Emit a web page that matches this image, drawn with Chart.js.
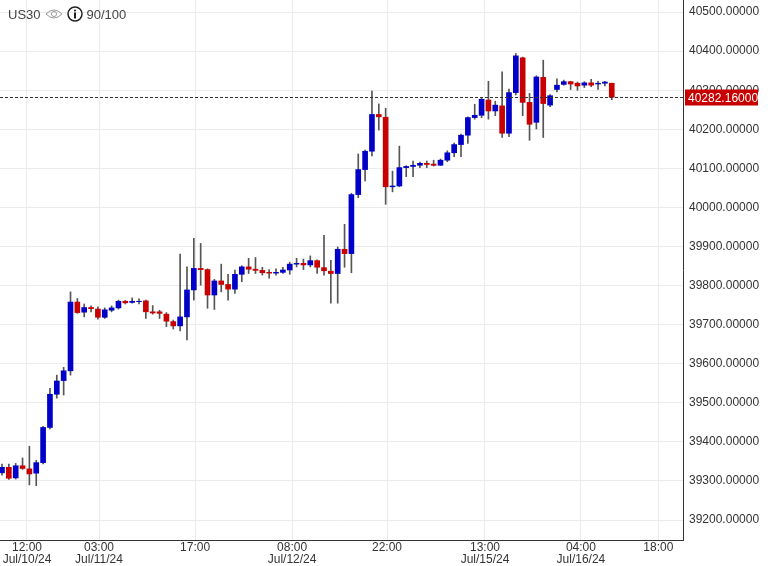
<!DOCTYPE html>
<html>
<head>
<meta charset="utf-8">
<script src="https://cdn.jsdelivr.net/npm/chart.js@4.4.1/dist/chart.umd.min.js"></script>
<style>
  body { margin: 0; background: #fff; }
  #wrap { position: relative; width: 768px; height: 566px; }
  #head { position: absolute; left: 8px; top: 6px; font: 13px "Liberation Sans", Arial, sans-serif; color: #444; display: flex; align-items: center; gap: 4px; }
</style>
</head>
<body>
<div id="wrap">
  <canvas id="usChart"></canvas>
  <div id="head">
    <span>US30</span>
    <svg width="18" height="12" viewBox="0 0 18 12"><path d="M1 6 Q9 -2 17 6 Q9 14 1 6Z" fill="none" stroke="#999" stroke-width="1"/><circle cx="9" cy="6" r="2.5" fill="none" stroke="#999"/></svg>
    <svg width="16" height="16" viewBox="0 0 16 16"><circle cx="8" cy="8" r="7" fill="none" stroke="#222" stroke-width="1.5"/><circle cx="8" cy="4.5" r="1.1" fill="#222"/><rect x="7" y="6.5" width="2" height="6" fill="#222"/></svg>
    <span>90/100</span>
  </div>
</div>
<script>
const opens  = [39321,39335,39308,39339,39331,39320,39347,39437,39522,39557,39582,39758,39732,39744,39740,39719,39737,39743,39760,39757,39759,39761,39733,39733,39727,39708,39697,39720,39789,39844,39841,39776,39812,39803,39791,39829,39848,39842,39839,39834,39832,39834,39840,39855,39857,39853,39864,39846,39837,39831,39893,39882,40033,40097,40144,40238,40231,40053,40055,40102,40105,40108,40113,40111,40108,40121,40140,40161,40185,40230,40236,40275,40247,40260,40190,40294,40383,40269,40218,40333,40262,40302,40315,40322,40318,40313,40319,40316,40318,40318];
const highs  = [39343,39343,39345,39359,39389,39353,39440,39537,39571,39591,39784,39767,39753,39748,39746,39743,39748,39763,39762,39769,39766,39763,39749,39737,39731,39712,39881,39848,39921,39908,39843,39816,39855,39829,39840,39851,39870,39872,39847,39841,39843,39847,39860,39870,39868,39876,39866,39929,39865,39899,39957,40036,40137,40147,40298,40265,40254,40093,40157,40107,40119,40116,40119,40121,40124,40145,40165,40188,40232,40264,40279,40323,40272,40347,40303,40394,40385,40292,40337,40377,40289,40329,40326,40323,40321,40322,40328,40323,40323,40318];
const lows   = [39315,39304,39305,39330,39290,39288,39344,39433,39512,39520,39571,39729,39720,39733,39714,39716,39733,39740,39753,39755,39753,39716,39727,39716,39695,39689,39684,39661,39763,39801,39742,39739,39784,39763,39780,39810,39831,39831,39827,39819,39827,39831,39829,39848,39841,39848,39831,39827,39755,39755,39847,39833,40025,40068,40132,40198,40008,40040,40053,40079,40079,40102,40102,40106,40108,40117,40130,40130,40164,40226,40230,40226,40235,40179,40181,40288,40235,40172,40201,40179,40258,40296,40313,40302,40300,40307,40309,40302,40311,40276];
const closes = [39335,39307,39339,39332,39318,39347,39437,39522,39556,39582,39758,39731,39744,39741,39719,39738,39743,39760,39756,39760,39760,39733,39730,39729,39709,39697,39720,39789,39844,39841,39776,39812,39803,39791,39829,39848,39842,39839,39833,39832,39834,39840,39855,39857,39853,39864,39847,39838,39831,39893,39882,40033,40097,40144,40238,40232,40053,40055,40102,40105,40108,40113,40110,40108,40121,40140,40161,40185,40230,40236,40277,40247,40262,40190,40294,40388,40269,40213,40334,40266,40286,40313,40322,40316,40311,40319,40313,40318,40321,40282.16];
const lastPrice = 40282.16;
const timeTicks = [3.65, 14.16, 28.18, 42.34, 56.2, 70.5, 84.5, 95.8];
const timeLabels = [['12:00','Jul/10/24'], ['03:00','Jul/11/24'], ['17:00',''], ['08:00','Jul/12/24'], ['22:00',''], ['13:00','Jul/15/24'], ['04:00','Jul/16/24'], ['18:00','']];
const priceTicks = [39200,39300,39400,39500,39600,39700,39800,39900,40000,40100,40200,40300,40400,40500];

const BLUE = 'rgb(0, 0, 200)';
const RED = 'rgb(200, 0, 0)';
const colors = opens.map((o, i) => closes[i] >= o ? BLUE : RED);
const font = { family: '"Liberation Sans", Arial, sans-serif', size: 12, lineHeight: 1.05 };

const lastLine = {
  id: 'lastLine',
  afterDatasetsDraw(chart) {
    const { ctx, chartArea, scales } = chart;
    const y = Math.round(scales.y.getPixelForValue(lastPrice)) + 0.5;
    ctx.save();
    ctx.strokeStyle = '#333';
    ctx.setLineDash([3, 2]);
    ctx.lineWidth = 1;
    ctx.beginPath();
    ctx.moveTo(chartArea.left, y);
    ctx.lineTo(chartArea.right, y);
    ctx.stroke();
    ctx.setLineDash([]);
    ctx.fillStyle = RED;
    ctx.fillRect(chartArea.right + 2, y - 8, 73, 16);
    ctx.fillStyle = '#fff';
    ctx.font = '12px "Liberation Sans", Arial, sans-serif';
    ctx.textBaseline = 'middle';
    ctx.fillText(lastPrice.toFixed(5), chartArea.right + 5, y + 1);
    ctx.restore();
  }
};

new Chart(document.getElementById('usChart'), {
  type: 'bar',
  data: {
    datasets: [{
      label: 'wick',
      data: opens.map((o, i) => ({ x: i, y: [lows[i], highs[i]] })),
      backgroundColor: '#555',
      barThickness: 1,
      grouped: false,
      order: 2
    }, {
      label: 'body',
      data: opens.map((o, i) => ({ x: i, y: o === closes[i] ? [o - 1, o + 1] : [o, closes[i]] })),
      backgroundColor: colors,
      borderColor: colors,
      barThickness: 5,
      grouped: false,
      order: 1
    }]
  },
  options: {
    responsive: true,
    maintainAspectRatio: false,
    animation: false,
    layout: { padding: 0 },
    plugins: { legend: { display: false }, tooltip: { enabled: false } },
    scales: {
      x: {
        type: 'linear',
        offset: false,
        min: -0.29,
        max: 99.4,
        afterBuildTicks: s => { s.ticks = timeTicks.map(v => ({ value: v })); },
        afterFit: s => { s.height = 26; },
        ticks: {
          autoSkip: false, maxRotation: 0, padding: 1, color: '#333', font: font,
          callback: (v, i) => timeLabels[i]
        },
        grid: { color: '#ebebeb', drawTicks: false, offset: false },
        border: { color: '#333', width: 1 }
      },
      y: {
        position: 'right',
        min: 39149,
        max: 40531,
        afterBuildTicks: s => { s.ticks = priceTicks.map(v => ({ value: v })); },
        afterFit: s => { s.width = 85; s.paddingTop = 0; s.paddingBottom = 0; },
        ticks: { color: '#333', font: font, padding: 6, callback: v => v.toFixed(5) },
        grid: { color: '#ebebeb', drawTicks: false },
        border: { color: '#333', width: 1 }
      }
    }
  },
  plugins: [lastLine]
});
</script>
</body>
</html>
